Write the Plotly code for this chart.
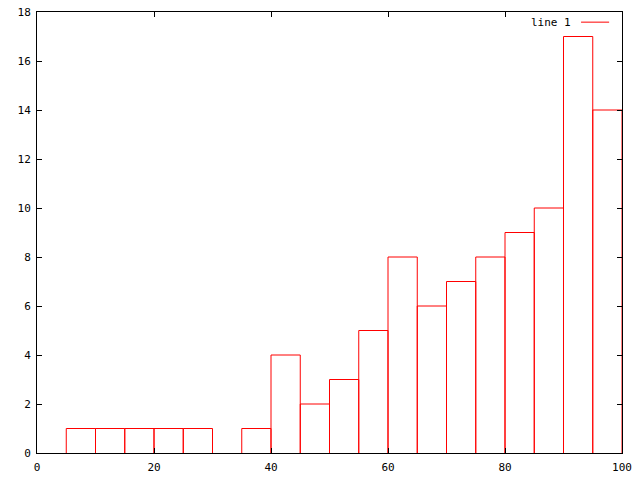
import plotly.graph_objects as go

bin_starts = [5, 10, 15, 20, 25, 30, 35, 40, 45, 50, 55, 60, 65, 70, 75, 80, 85, 90, 95]
counts = [1, 1, 1, 1, 1, 0, 1, 4, 2, 3, 5, 8, 6, 7, 8, 9, 10, 17, 14]
bin_width = 5
x_ticks = [0, 20, 40, 60, 80, 100]
y_ticks = [0, 2, 4, 6, 8, 10, 12, 14, 16, 18]
legend_label = "line 1"

# Outline of each box (left side, top, right side), like gnuplot "with boxes"
xs, ys = [], []
for s, c in zip(bin_starts, counts):
    if c == 0:
        continue
    xs += [s, s, s + bin_width, s + bin_width, None]
    ys += [0, c, c, 0, None]

fig = go.Figure()
fig.add_trace(go.Scatter(
    x=xs, y=ys, mode="lines",
    line=dict(color="#ff0000", width=1),
    showlegend=False, connectgaps=False, hoverinfo="skip",
))

font = dict(family="DejaVu Sans Mono", size=11, color="black")
axis_common = dict(
    showgrid=False, zeroline=False, showline=True, linecolor="black", linewidth=1,
    mirror="allticks", ticks="inside", ticklen=5, tickcolor="black", tickwidth=1,
    tickfont=font,
)
fig.update_layout(
    width=640, height=480,
    margin=dict(l=37, r=18, t=12, b=27, autoexpand=False),
    paper_bgcolor="white", plot_bgcolor="white",
    xaxis=dict(range=[0, 100], tickvals=x_ticks, automargin=False,
               ticklabelstandoff=4, **axis_common),
    yaxis=dict(range=[0, 18], tickvals=y_ticks, automargin=False,
               ticklabelstandoff=3, **axis_common),
    showlegend=False,
    font=font,
)
fig.add_annotation(
    xref="paper", yref="paper", x=0.917, y=0.977, text=legend_label,
    showarrow=False, xanchor="right", yanchor="middle", font=font,
)
fig.add_shape(
    type="line", xref="paper", yref="paper", x0=0.930, x1=0.978, y0=0.977, y1=0.977,
    line=dict(color="#ff0000", width=1),
)
fig.write_html("out.html", config={"displayModeBar": False},
               post_script="document.body.style.margin='0';")
